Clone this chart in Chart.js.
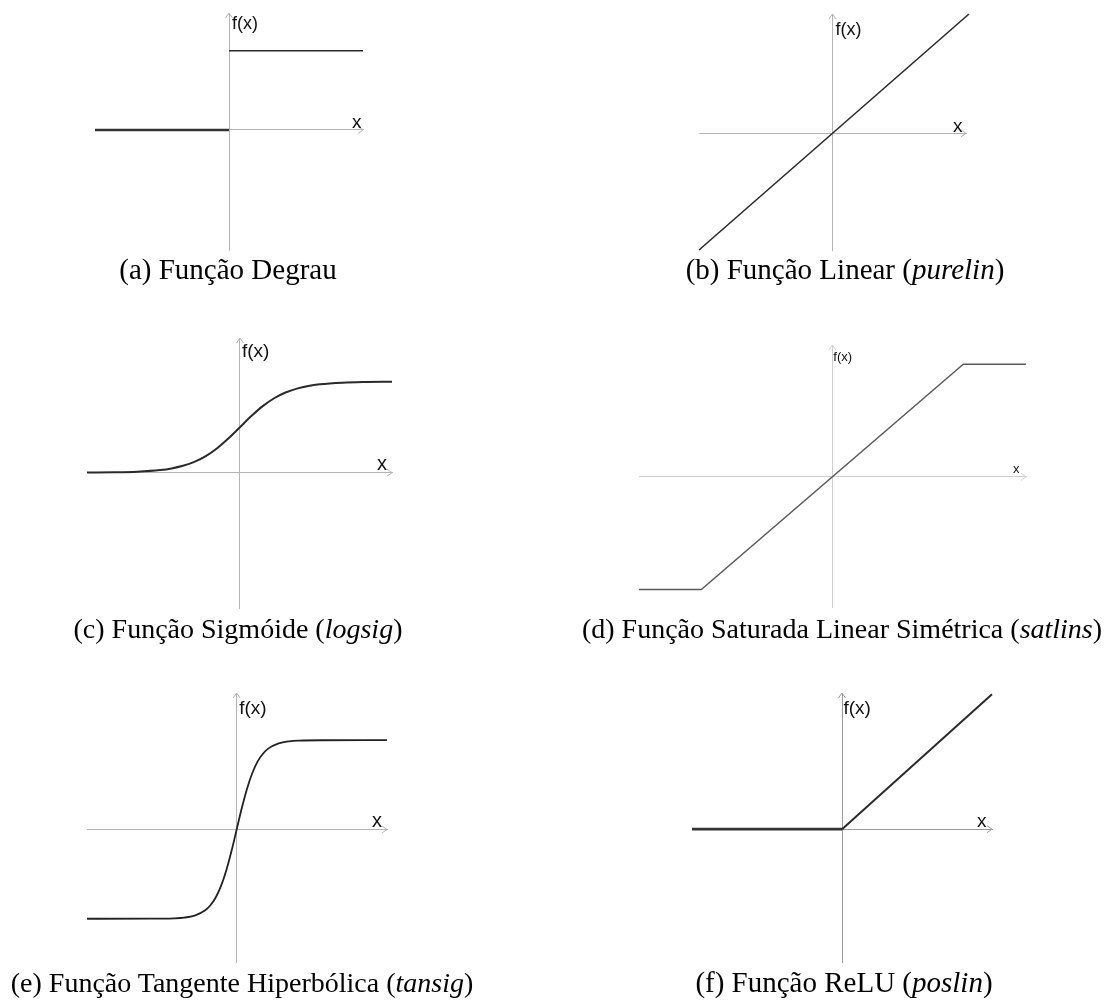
<!DOCTYPE html>
<html><head><meta charset="utf-8">
<script src="https://cdn.jsdelivr.net/npm/chart.js@4.4.1/dist/chart.umd.min.js"></script>
<style>
html,body{margin:0;padding:0;background:#fff;}
#wrap{position:relative;width:1104px;height:1001px;overflow:hidden;background:#fff;}
#wrap canvas{position:absolute;}
.cap{position:absolute;width:700px;text-align:center;font-family:"Liberation Serif","Times New Roman",serif;color:#000;white-space:nowrap;}
</style></head><body><div id="wrap"></div>
<script>
// ---- data ----
const stepLeftX = [-1, 0];
const stepLeftY = [0, 0];
const stepRightX = [0, 1];
const stepRightY = [1, 1];

const linearX = [-1, 1.022];
const linearY = [-1, 1.022];

const sigmoidX = [-6.71, -5.5, -4.5, -3.5, -3, -2.5, -2, -1.5, -1, -0.5, 0, 0.5, 1, 1.5, 2, 2.5, 3, 3.5, 4.5, 5.5, 6.67];
const sigmoidY = [0.001, 0.004, 0.011, 0.029, 0.047, 0.076, 0.119, 0.182, 0.269, 0.378, 0.5, 0.622, 0.731, 0.818, 0.881, 0.924, 0.953, 0.971, 0.989, 0.996, 0.999];

const satlinsX = [-1.476, -1, 1, 1.479];
const satlinsY = [-1, -1, 1, 1];

const tansigX = [-7.13, -4, -3, -2.5, -2, -1.5, -1.25, -1, -0.75, -0.5, -0.25, 0, 0.25, 0.5, 0.75, 1, 1.25, 1.5, 2, 2.5, 3, 4, 7.16];
const tansigY = [-1, -0.999, -0.995, -0.987, -0.964, -0.905, -0.848, -0.762, -0.635, -0.462, -0.245, 0, 0.245, 0.462, 0.635, 0.762, 0.848, 0.905, 0.964, 0.987, 0.995, 0.999, 1];

const reluLeftX = [-1, 0];
const reluLeftY = [0, 0];
const reluRightX = [0, 1];
const reluRightY = [0, 1];

const captionMain = ['(a) Função Degrau', '(b) Função Linear', '(c) Função Sigmóide', '(d) Função Saturada Linear Simétrica', '(e) Função Tangente Hiperbólica', '(f) Função ReLU'];
const captionItalic = ['', 'purelin', 'logsig', 'satlins', 'tansig', 'poslin'];
const yAxisLabel = 'f(x)';
const xAxisLabel = 'x';

// ---- layout / style ----
const M = 12;
const panels = [
  { area:[95,13,363,250], xr:[-1,1], yr:[-1.513,1.475], axis:'#b4b4b4',
    series:[{x:stepRightX,y:stepRightY,c:'#2a2a2a',w:1.6},{x:stepLeftX,y:stepLeftY,c:'#333',w:2.6}],
    fx:[3,16,18], xl:[-11,-2,19], cap:[228,279,29] },
  { area:[699,14,966,250], xr:[-1,1], yr:[-1,1.022], axis:'#b4b4b4',
    series:[{x:linearX,y:linearY,c:'#2a2a2a',w:1.6}],
    fx:[3,21,18], xl:[-13,-1,19], cap:[845,279,29] },
  { area:[87,338,392,608], xr:[-6.71,6.67], yr:[-1.487,1.48], axis:'#b4b4b4',
    series:[{x:sigmoidX,y:sigmoidY,c:'#2a2a2a',w:2,smooth:true}],
    fx:[2,19,19], xl:[-15,-3,20], cap:[238,638,28] },
  { area:[639,345,1026,607], xr:[-1.476,1.479], yr:[-1.156,1.171], axis:'#cfcfcf',
    series:[{x:satlinsX,y:satlinsY,c:'#5a5a5a',w:1.4}],
    fx:[1,16,13], xl:[-13,-4,13], cap:[842,638,28] },
  { area:[87,693,387,962], xr:[-7.13,7.16], yr:[-1.484,1.528], axis:'#b4b4b4',
    series:[{x:tansigX,y:tansigY,c:'#222',w:1.8,smooth:true}],
    fx:[2.5,21,19], xl:[-15,-2,20], cap:[242,992,28] },
  { area:[692,693,992,962], xr:[-1,1], yr:[-0.985,1.01], axis:'#9a9a9a',
    series:[{x:reluRightX,y:reluRightY,c:'#2a2a2a',w:2},{x:reluLeftX,y:reluLeftY,c:'#333',w:2.8}],
    fx:[1.5,21,19], xl:[-15,-2,19], cap:[844,992,29] }
];

const decor = {
  id:'decor',
  afterDraw(chart, args, o) {
    const ctx = chart.ctx, xs = chart.scales.x, ys = chart.scales.y;
    const x0 = xs.getPixelForValue(0), y0 = ys.getPixelForValue(0);
    const right = xs.right, top = ys.top;
    ctx.save();
    ctx.strokeStyle = o.axis; ctx.lineWidth = 1;
    ctx.beginPath();
    ctx.moveTo(right - 5, y0 - 3.5); ctx.lineTo(right, y0); ctx.lineTo(right - 5, y0 + 3.5);
    ctx.moveTo(x0 - 3.5, top + 5); ctx.lineTo(x0, top); ctx.lineTo(x0 + 3.5, top + 5);
    ctx.stroke();
    ctx.fillStyle = '#111';
    ctx.textBaseline = 'alphabetic'; ctx.textAlign = 'left';
    ctx.font = o.fx[2] + 'px "Liberation Sans", Arial, sans-serif';
    ctx.fillText(yAxisLabel, x0 + o.fx[0], top + o.fx[1]);
    ctx.font = o.xl[2] + 'px "Liberation Sans", Arial, sans-serif';
    ctx.fillText(xAxisLabel, right + o.xl[0], y0 + o.xl[1]);
    ctx.restore();
  }
};

const wrap = document.getElementById('wrap');
panels.forEach((p, i) => {
  const [L,T,R,B] = p.area;
  const cv = document.createElement('canvas');
  const w = R - L + 2*M, h = B - T + 2*M;
  cv.width = w; cv.height = h;
  cv.style.left = (L - M) + 'px'; cv.style.top = (T - M) + 'px';
  cv.style.width = w + 'px'; cv.style.height = h + 'px';
  wrap.appendChild(cv);
  const axisOpt = (min, max, pos) => ({
    type:'linear', min, max, bounds:'data', grace:0, position:pos,
    grid:{display:false, drawTicks:false},
    ticks:{display:false},
    border:{display:true, color:p.axis, width:1}
  });
  new Chart(cv, {
    type:'scatter',
    data:{ datasets: p.series.map(s => ({
      data: s.x.map((v, k) => ({x:v, y:s.y[k]})),
      showLine:true, borderColor:s.c, backgroundColor:s.c, borderWidth:s.w,
      pointRadius:0, pointHoverRadius:0, fill:false, clip:false,
      tension:0, cubicInterpolationMode: s.smooth ? 'monotone' : 'default',
      borderCapStyle:'butt', borderJoinStyle:'miter'
    })) },
    options:{
      responsive:false, maintainAspectRatio:false, animation:false, devicePixelRatio:1,
      events:[],
      layout:{padding:M, autoPadding:false},
      plugins:{legend:{display:false}, tooltip:{enabled:false}, title:{display:false},
        decor:{axis:p.axis, fx:p.fx, xl:p.xl}},
      scales:{ x: axisOpt(p.xr[0], p.xr[1], {y:0}), y: axisOpt(p.yr[0], p.yr[1], {x:0}) }
    },
    plugins:[decor]
  });
  const cap = document.createElement('div');
  cap.className = 'cap';
  const fs = p.cap[2];
  cap.style.fontSize = fs + 'px';
  cap.style.lineHeight = fs + 'px';
  cap.style.left = (p.cap[0] - 350) + 'px';
  cap.style.top = (p.cap[1] - 0.8375*fs) + 'px';
  cap.innerHTML = captionMain[i] + (captionItalic[i] ? ' (<i>' + captionItalic[i] + '</i>)' : '');
  wrap.appendChild(cap);
});
</script>
</body></html>
